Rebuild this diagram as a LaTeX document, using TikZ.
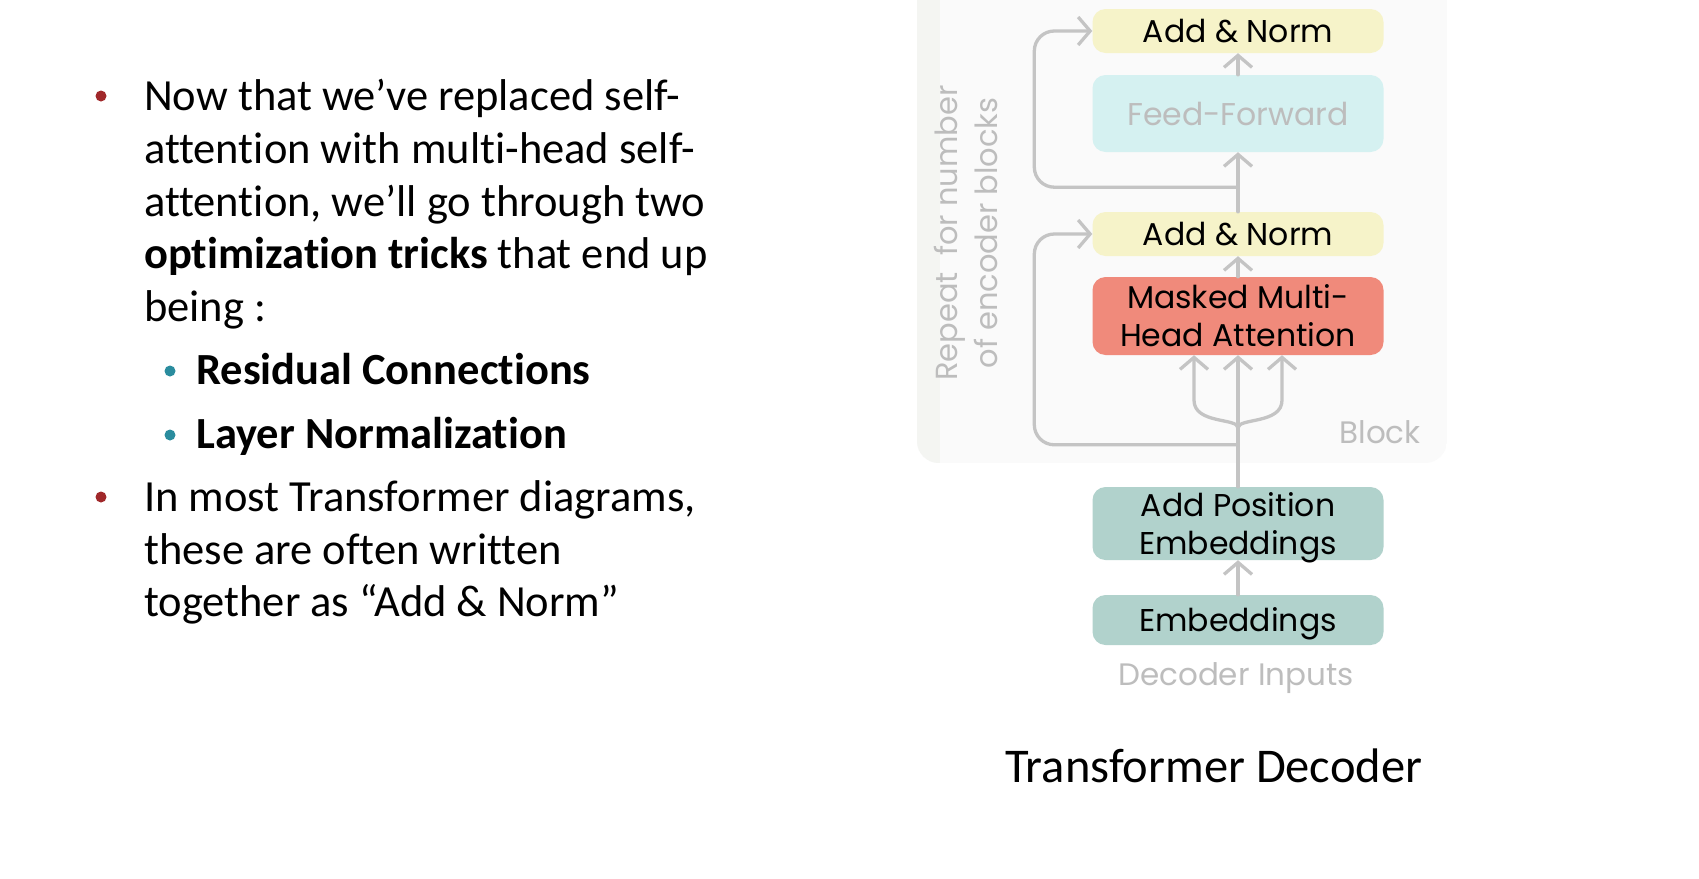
\documentclass[tikz,border=0pt]{standalone}
\usepackage{fontspec}
\setmainfont{Carlito}[Ligatures=NoCommon]
\newfontfamily\dfont{Poppins}
\usetikzlibrary{arrows.meta}
\definecolor{lc}{HTML}{C4C4C4}
\definecolor{yel}{HTML}{F6F3C9}
\definecolor{cyn}{HTML}{D5F1F1}
\definecolor{sal}{HTML}{F08A7B}
\definecolor{tea}{HTML}{B1D2CC}
\definecolor{bgc}{HTML}{FAFAFA}
\definecolor{stc}{HTML}{F4F5F2}
\definecolor{gtx}{HTML}{BDBDBD}
\definecolor{bred}{HTML}{A0282A}
\definecolor{bteal}{HTML}{2A8C9E}
\begin{document}
\begin{tikzpicture}[x=1pt,y=-1pt,
  box/.style={rounded corners=13pt, minimum width=291pt, inner sep=0pt, align=center,
    font=\dfont\fontsize{31.5}{38}\selectfont, text=black},
  arr/.style={draw=lc, line width=3.3pt, line cap=round, line join=round,
    -{Straight Barb[length=12pt,width=28pt,line width=3.3pt]}},
  body/.style={anchor=base west, inner sep=0pt, font=\fontsize{44.5}{53}\selectfont},
  gray/.style={inner sep=0pt, text=gtx, font=\dfont\fontsize{31}{38}\selectfont}]
\useasboundingbox (0,0) rectangle (1699,878);
\fill[white] (0,0) rectangle (1699,878);
% block background
\begin{scope}
\clip[rounded corners=22pt] (917,-40) rectangle (1447,463);
\fill[bgc] (917,-40) rectangle (1447,463);
\fill[stc] (917,-40) rectangle (940,463);
\end{scope}
% left text
\fill[bred] (101,96) circle (5.5);
\node[body] (l1) at (144,110.5) {Now that we’ve replaced self-};
\node[body] (l2) at (144,163.6) {attention with multi-head self-};
\node[body] (l3) at (144,216.7) {attention, we’ll go through two};
\node[body] (l4) at (144,268.7) {\textbf{optimization tricks} that end up};
\node[body] (l5) at (144,321.8) {being :};
\fill[bteal] (170,371) circle (5.5);
\node[body] (l6) at (196,384) {\textbf{Residual Connections}};
\fill[bteal] (170,435) circle (5.5);
\node[body] (l7) at (196,448) {\textbf{Layer Normalization}};
\fill[bred] (101,497) circle (5.5);
\node[body] (l8) at (144,511) {In most Transformer diagrams,};
\node[body] (l9) at (144,564) {these are often written};
\node[body] (l10) at (144,616) {together as “Add \& Norm”};
% diagram boxes
\node[box, fill=yel, minimum height=44pt] (an1) at (1238,31) {Add \& Norm};
\node[box, fill=cyn, minimum height=77pt, text=gtx] (ff) at (1238,113.5) {Feed-Forward};
\node[box, fill=yel, minimum height=44pt] (an2) at (1238,234) {Add \& Norm};
\node[box, fill=sal, minimum height=78pt] (mmha) at (1238,316) {Masked Multi-\\Head Attention};
\node[box, fill=tea, minimum height=73pt, text depth=0pt] (apos) at (1238,523.5) {Add Position\\Embeddings};
\node[box, fill=tea, minimum height=50pt, text depth=0pt] (emb) at (1238,620) {Embeddings};
\node[gray] (din) at (1236,678) {Decoder Inputs};
\node[gray] (blk) at (1380,432) {Block};
\node[gray, rotate=90, align=center, font=\dfont\fontsize{30.5}{40}\selectfont] (rep) at (966,233) {Repeat\ \ for number\\of encoder blocks};
\node[anchor=base west, inner sep=0pt, font=\fontsize{48.5}{53}\selectfont] (title) at (1005,782) {Transformer Decoder};
% connectors
\coordinate (merge) at ([shift={(0,-59)}]apos.north);
\coordinate (r1) at ([shift={(0,-42)}]apos.north);
\coordinate (r2) at ([shift={(0,35)}]ff.south);
\draw[arr] (emb.north) -- (apos.south);
\draw[arr] (apos.north) -- (mmha.south);
\draw[arr] (merge) .. controls +(0,-10) and +(0,24) .. ([shift={(-44,45)}]mmha.south) -- ([shift={(-44,0)}]mmha.south);
\draw[arr] (merge) .. controls +(0,-10) and +(0,24) .. ([shift={(44,45)}]mmha.south) -- ([shift={(44,0)}]mmha.south);
\draw[arr] (mmha.north) -- (an2.south);
\draw[arr] (an2.north) -- (ff.south);
\draw[arr] (ff.north) -- (an1.south);
\draw[arr, rounded corners=20pt] (r1) -| ([shift={(-58,0)}]an2.west) -- (an2.west);
\draw[arr, rounded corners=20pt] (r2) -| ([shift={(-58,0)}]an1.west) -- (an1.west);
\end{tikzpicture}
\end{document}
